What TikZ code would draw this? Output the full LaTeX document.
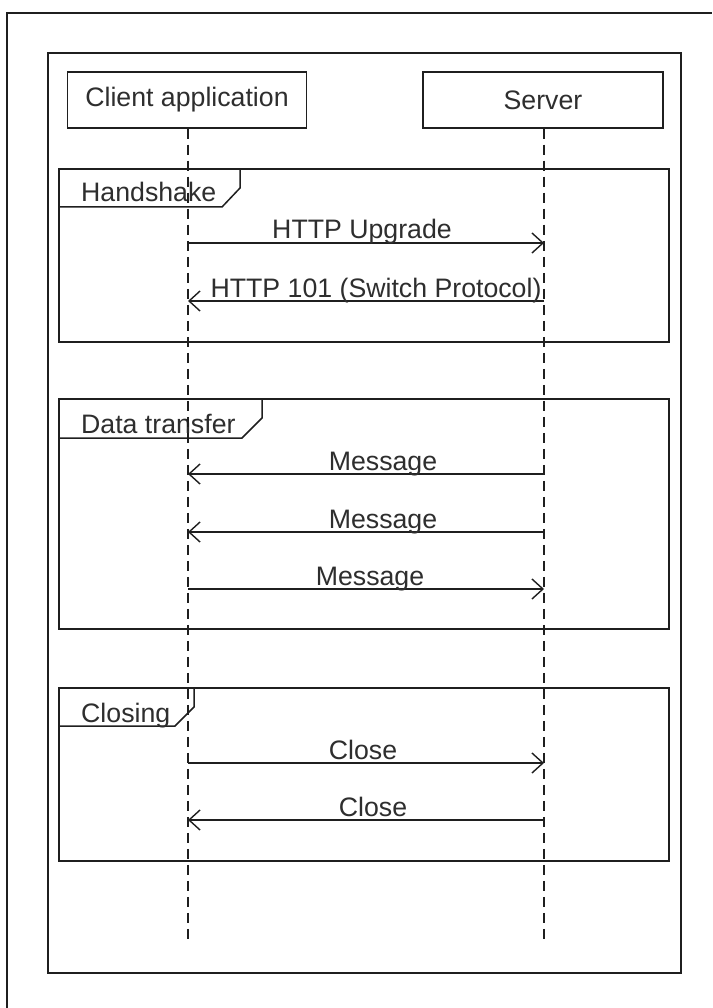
\documentclass[tikz,border=0pt]{standalone}
\usepackage{fontspec}
\setmainfont{Liberation Sans}
\usetikzlibrary{arrows.meta}
\begin{document}
\begin{tikzpicture}[x=1pt,y=-1pt,
  ink/.style={draw=black!88},
  txt/.style={text=black!82, font=\fontsize{26.7}{32}\selectfont},
  outerframe/.style={ink, line width=1.7pt},
  headbox/.style={ink, txt, line width=1.5pt, minimum height=56pt, inner sep=0pt},
  fragbox/.style={ink, line width=1.5pt},
  lifeline/.style={ink, line width=1.4pt, dash pattern=on 10pt off 6pt},
  msg/.style={ink, line width=1.4pt, -{Straight Barb[length=11pt,width=20pt,line width=1.4pt]}},
  lbl/.style={txt, anchor=base, inner sep=0pt},
  fraglbl/.style={txt, anchor=base west, inner sep=0pt},
]
\useasboundingbox (0,0) rectangle (712,1008);
\fill[white] (0,0) rectangle (712,1008);

% outer frames
\draw[outerframe] (7,1008) -- (7,13) -- (712,13);
\draw[outerframe] (48,53) rectangle (681,973);

% participants
\node[headbox, minimum width=239pt] (client) at (187,100) {Client application};
\node[headbox, minimum width=240pt] (server) at (543,100) {Server};

% combined fragments
\draw[fragbox] (59,169) rectangle (669,342);
\draw[fragbox] (59,207) -- (222,207) -- (240,188) -- (240,169);
\node[fraglbl] (hslbl) at (81,202) {Handshake};

\draw[fragbox] (59,399) rectangle (669,629);
\draw[fragbox] (59,438) -- (242,438) -- (262,418) -- (262,399);
\node[fraglbl] (dtlbl) at (81,433) {Data transfer};

\draw[fragbox] (59,688) rectangle (669,861);
\draw[fragbox] (59,726) -- (175,726) -- (194,707) -- (194,688);
\node[fraglbl] (cllbl) at (81,722) {Closing};

% lifelines
\coordinate (cend) at (188,940);
\coordinate (send) at (544,940);
\draw[lifeline] (client.south -| cend) -- (cend);
\draw[lifeline] (server.south -| send) -- (send);

% messages
\coordinate (c1) at (188,243); \coordinate (s1) at (544,243);
\coordinate (c2) at (188,301); \coordinate (s2) at (544,301);
\coordinate (c3) at (188,474); \coordinate (s3) at (544,474);
\coordinate (c4) at (188,532); \coordinate (s4) at (544,532);
\coordinate (c5) at (188,589); \coordinate (s5) at (544,589);
\coordinate (c6) at (188,763); \coordinate (s6) at (544,763);
\coordinate (c7) at (188,820); \coordinate (s7) at (544,820);

\draw[msg] (c1) -- (s1);
\draw[msg] (s2) -- (c2);
\draw[msg] (s3) -- (c3);
\draw[msg] (s4) -- (c4);
\draw[msg] (c5) -- (s5);
\draw[msg] (c6) -- (s6);
\draw[msg] (s7) -- (c7);

\node[lbl] (m1) at (362,239) {HTTP Upgrade};
\node[lbl] (m2) at (376,297) {HTTP 101 (Switch Protocol)};
\node[lbl] (m3) at (383,470) {Message};
\node[lbl] (m4) at (383,528) {Message};
\node[lbl] (m5) at (370,585) {Message};
\node[lbl] (m6) at (363,759) {Close};
\node[lbl] (m7) at (373,816) {Close};
\end{tikzpicture}
\end{document}
